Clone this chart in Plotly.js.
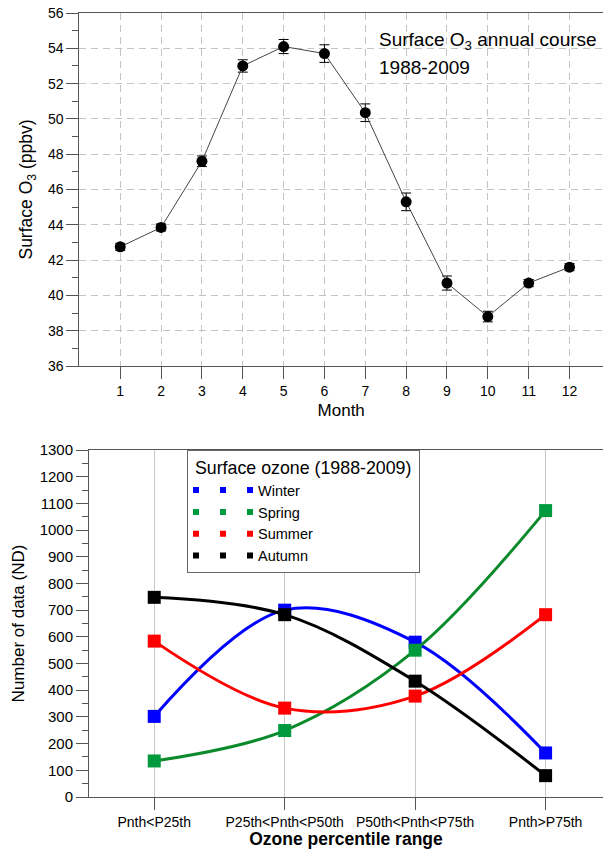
<!DOCTYPE html>
<html>
<head>
<meta charset="utf-8">
<script src="https://cdn.plot.ly/plotly-3.0.1.min.js"></script>
<style>html,body{margin:0;padding:0;background:#fff;}#chart{width:603px;height:849px;}</style>
</head>
<body>
<div id="chart"></div>
<script>
// ---- Top chart data: surface O3 annual course ----
const months = [1, 2, 3, 4, 5, 6, 7, 8, 9, 10, 11, 12];
const o3Mean = [42.75, 43.85, 47.6, 53.0, 54.1, 53.7, 50.35, 45.3, 40.7, 38.8, 40.7, 41.6];
const o3Err  = [0.2, 0.2, 0.3, 0.35, 0.4, 0.5, 0.5, 0.5, 0.4, 0.3, 0.2, 0.2];

// ---- Bottom chart data: number of data per ozone percentile range ----
const ranges = ["Pnth<P25th", "P25th<Pnth<P50th", "P50th<Pnth<P75th", "Pnth>P75th"];
const winter = [302, 700, 580, 165];
const spring = [135, 249, 550, 1073];
const summer = [584, 333, 378, 683];
const autumn = [748, 683, 434, 80];
const seasonNames = ["Winter", "Spring", "Summer", "Autumn"];

const W = 603, H = 849;
const FONT = "Liberation Sans, Arial, sans-serif";
const px = v => v / W;
const py = v => 1 - v / H;

const lineCols = ["#0000ff", "#0a8a2a", "#ff0000", "#000000"];
const markCols = ["#0000ff", "#009a3e", "#ff0000", "#000000"];
const seasonData = [winter, spring, summer, autumn];

const traces = [];
traces.push({
  x: months, y: o3Mean, xaxis: "x", yaxis: "y",
  type: "scatter", mode: "lines+markers",
  line: {color: "#444", width: 1},
  marker: {color: "#000", size: 11, symbol: "circle"},
  error_y: {type: "data", array: o3Err, visible: true, color: "#000", thickness: 1, width: 5},
  showlegend: false, hoverinfo: "x+y"
});

seasonData.forEach((d, i) => {
  traces.push({
    x: ranges, y: d, xaxis: "x2", yaxis: "y2",
    type: "scatter", mode: "lines+markers", name: seasonNames[i],
    line: {color: lineCols[i], width: 3, shape: "spline", smoothing: 1},
    marker: {color: markCols[i], size: 13, symbol: "square"},
    showlegend: false
  });
});
// legend-only entries (dotted-square sample like the original)
seasonData.forEach((d, i) => {
  traces.push({
    x: [null], y: [null], xaxis: "x2", yaxis: "y2",
    type: "scatter", mode: "lines", name: seasonNames[i],
    line: {color: markCols[i], width: 6, dash: "6px,21px"},
    showlegend: true, hoverinfo: "skip"
  });
});

const axisCommon = {
  showline: true, linecolor: "#555", linewidth: 1,
  ticks: "outside", ticklen: 12, tickcolor: "#555", tickwidth: 1,
  zeroline: false, automargin: false
};

const layout = {
  width: W, height: H,
  margin: {l: 0, r: 0, t: 0, b: 0},
  paper_bgcolor: "#fff", plot_bgcolor: "#fff",
  font: {family: FONT, color: "#000"},
  showlegend: true,
  xaxis: Object.assign({}, axisCommon, {
    domain: [px(79.4), 1], range: [0, 12.82],
    tickmode: "array", tickvals: months, ticktext: months.map(String),
    mirror: true,
    showgrid: true, gridcolor: "#c4c4c4", griddash: "7px,5px", gridwidth: 1,
    tickfont: {size: 14},
    title: {text: "Month", font: {size: 17}, standoff: 6},
    anchor: "y"
  }),
  yaxis: Object.assign({}, axisCommon, {
    domain: [py(366), py(13)], range: [36, 56],
    tickmode: "linear", tick0: 36, dtick: 2,
    showgrid: true, gridcolor: "#c4c4c4", griddash: "7px,5px", gridwidth: 1,
    minor: {dtick: 1, ticks: "outside", ticklen: 6, tickcolor: "#555", showgrid: false},
    tickfont: {size: 14},
    title: {text: "Surface O<sub>3</sub> (ppbv)", font: {size: 17.5}, standoff: 10},
    anchor: "x"
  }),
  xaxis2: Object.assign({}, axisCommon, {
    type: "category", categoryorder: "array", categoryarray: ranges,
    domain: [px(89), 1], range: [-0.5, 3.44],
    mirror: true,
    showgrid: true, gridcolor: "#c8c8c8", gridwidth: 1,
    tickfont: {size: 14},
    title: {text: "<b>Ozone percentile range</b>", font: {size: 17.5}, standoff: 8},
    anchor: "y2"
  }),
  yaxis2: Object.assign({}, axisCommon, {
    domain: [py(797), py(450)], range: [0, 1300],
    tickmode: "linear", tick0: 0, dtick: 100,
    showgrid: false,
    minor: {dtick: 50, ticks: "outside", ticklen: 6, tickcolor: "#555", showgrid: false},
    tickfont: {size: 15},
    title: {text: "Number of data (ND)", font: {size: 17}, standoff: 10},
    anchor: "x2"
  }),
  legend: {
    x: px(187), y: py(450), xanchor: "left", yanchor: "top",
    bgcolor: "#fff", bordercolor: "#666", borderwidth: 1,
    font: {size: 14.5}, itemwidth: 60, tracegroupgap: 0,
    title: {text: "&nbsp;Surface ozone (1988-2009)&nbsp;", font: {size: 17.8}}
  },
  annotations: [
    {text: "Surface O<sub>3</sub> annual course", xref: "paper", yref: "paper",
     x: px(377), y: py(41), xanchor: "left", yanchor: "middle", showarrow: false,
     font: {size: 19}},
    {text: "1988-2009", xref: "paper", yref: "paper",
     x: px(377), y: py(67), xanchor: "left", yanchor: "middle", showarrow: false,
     font: {size: 19}}
  ]
};

Plotly.newPlot("chart", traces, layout, {displayModeBar: false, staticPlot: true});
</script>
</body>
</html>
